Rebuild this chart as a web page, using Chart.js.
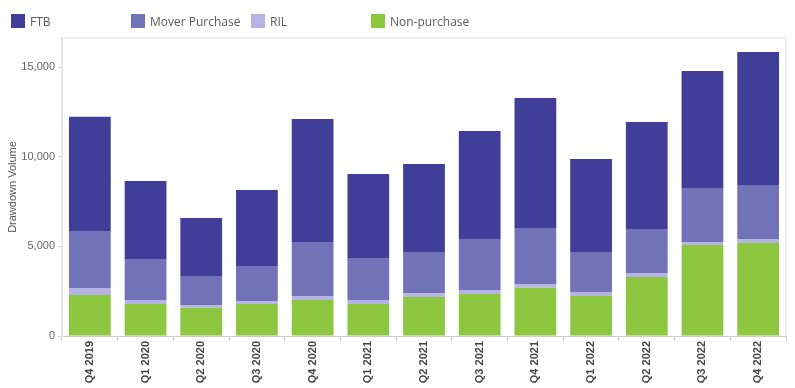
<!DOCTYPE html>
<html>
<head>
<meta charset="utf-8">
<script src="https://cdn.jsdelivr.net/npm/chart.js@4/dist/chart.umd.min.js"></script>
<style>
  html, body { margin: 0; padding: 0; background: #fff; }
  #wrap { position: relative; width: 795px; height: 388px; overflow: hidden; }
  #c { position: absolute; left: 0; top: 0; }
  .lg { position: absolute; top: 14px; height: 14px; display: flex; align-items: center;
        font-family: "Open Sans", sans-serif; font-size: 12px; color: #5a5a5a; white-space: nowrap; }
  .lg span.box { display: inline-block; width: 14px; height: 14px; margin-right: 5px; }
</style>
</head>
<body>
<div id="wrap">
  <canvas id="c" width="795" height="388"></canvas>
  <div id="legend"></div>
</div>
<script>
const categories = ['Q4 2019','Q1 2020','Q2 2020','Q3 2020','Q4 2020','Q1 2021','Q2 2021','Q3 2021','Q4 2021','Q1 2022','Q2 2022','Q3 2022','Q4 2022'];
const nonPurchase = [2290,1780,1580,1780,2010,1780,2180,2340,2690,2230,3290,5080,5190];
const ril         = [390,230,150,170,220,230,220,230,210,220,220,160,220];
const mover       = [3180,2280,1620,1950,3010,2340,2280,2840,3120,2230,2460,3010,3010];
const ftb         = [6370,4350,3230,4240,6860,4690,4910,6020,7250,5190,5970,6530,7420];
const yTicks = [0, 5000, 10000, 15000];

const colors = { ftb: '#403e98', mover: '#7272b9', ril: '#b6b4e4', non: '#8dc63f' };

// HTML legend (FTB, Mover Purchase, RIL, Non-purchase)
const legendItems = [
  ['FTB', colors.ftb, 11],
  ['Mover Purchase', colors.mover, 131],
  ['RIL', colors.ril, 251],
  ['Non-purchase', colors.non, 371]
];
const lgEl = document.getElementById('legend');
legendItems.forEach(([t, c, x]) => {
  const d = document.createElement('div');
  d.className = 'lg';
  d.style.left = x + 'px';
  d.innerHTML = '<span class="box" style="background:' + c + '"></span><span>' + t + '</span>';
  lgEl.appendChild(d);
});

const framePlugin = {
  id: 'frame',
  afterDraw(chart) {
    const { ctx, chartArea: a } = chart;
    ctx.save();
    ctx.strokeStyle = '#e6e6e6';
    ctx.lineWidth = 1.5;
    ctx.beginPath();
    ctx.moveTo(a.left, a.top);
    ctx.lineTo(a.right, a.top);
    ctx.lineTo(a.right, a.bottom);
    ctx.stroke();
    ctx.restore();
  }
};

new Chart(document.getElementById('c'), {
  type: 'bar',
  data: {
    labels: categories,
    datasets: [
      { label: 'Non-purchase', data: nonPurchase, backgroundColor: colors.non },
      { label: 'RIL', data: ril, backgroundColor: colors.ril },
      { label: 'Mover Purchase', data: mover, backgroundColor: colors.mover },
      { label: 'FTB', data: ftb, backgroundColor: colors.ftb }
    ]
  },
  options: {
    responsive: false,
    animation: false,
    layout: { padding: { top: 38, right: 9, left: 0, bottom: 0 } },
    datasets: { bar: { barPercentage: 0.75, categoryPercentage: 1.0, borderWidth: 0 } },
    plugins: { legend: { display: false }, tooltip: { enabled: false } },
    scales: {
      x: {
        stacked: true,
        afterFit(s) { s.height = 52; },
        grid: { display: true, drawOnChartArea: false, drawTicks: true, tickLength: 5, color: '#cccccc', offset: true },
        border: { display: true, color: '#cccccc', dash: [3, 2], width: 1 },
        ticks: {
          minRotation: 90, maxRotation: 90, autoSkip: false, padding: 0,
          color: '#444444',
          font: { family: '"Liberation Sans", Arial, sans-serif', size: 11, weight: 'bold' }
        }
      },
      y: {
        stacked: true,
        min: 0, max: 16620,
        afterFit(s) { s.width = 62; },
        afterBuildTicks(s) { s.ticks = yTicks.map(v => ({ value: v })); },
        grid: { display: true, drawOnChartArea: false, drawTicks: true, tickLength: 4, tickColor: '#cccccc' },
        border: { display: true, color: '#e6e6e6', width: 2 },
        ticks: {
          padding: 3, color: '#666666',
          font: { family: '"Liberation Sans", Arial, sans-serif', size: 11 },
          callback: (v) => v.toLocaleString('en-US')
        },
        title: {
          display: true, text: 'Drawdown Volume', color: '#555555',
          padding: { top: 6, bottom: 0 },
          font: { family: '"Liberation Sans", Arial, sans-serif', size: 11 }
        }
      }
    }
  },
  plugins: [framePlugin]
});
</script>
</body>
</html>
